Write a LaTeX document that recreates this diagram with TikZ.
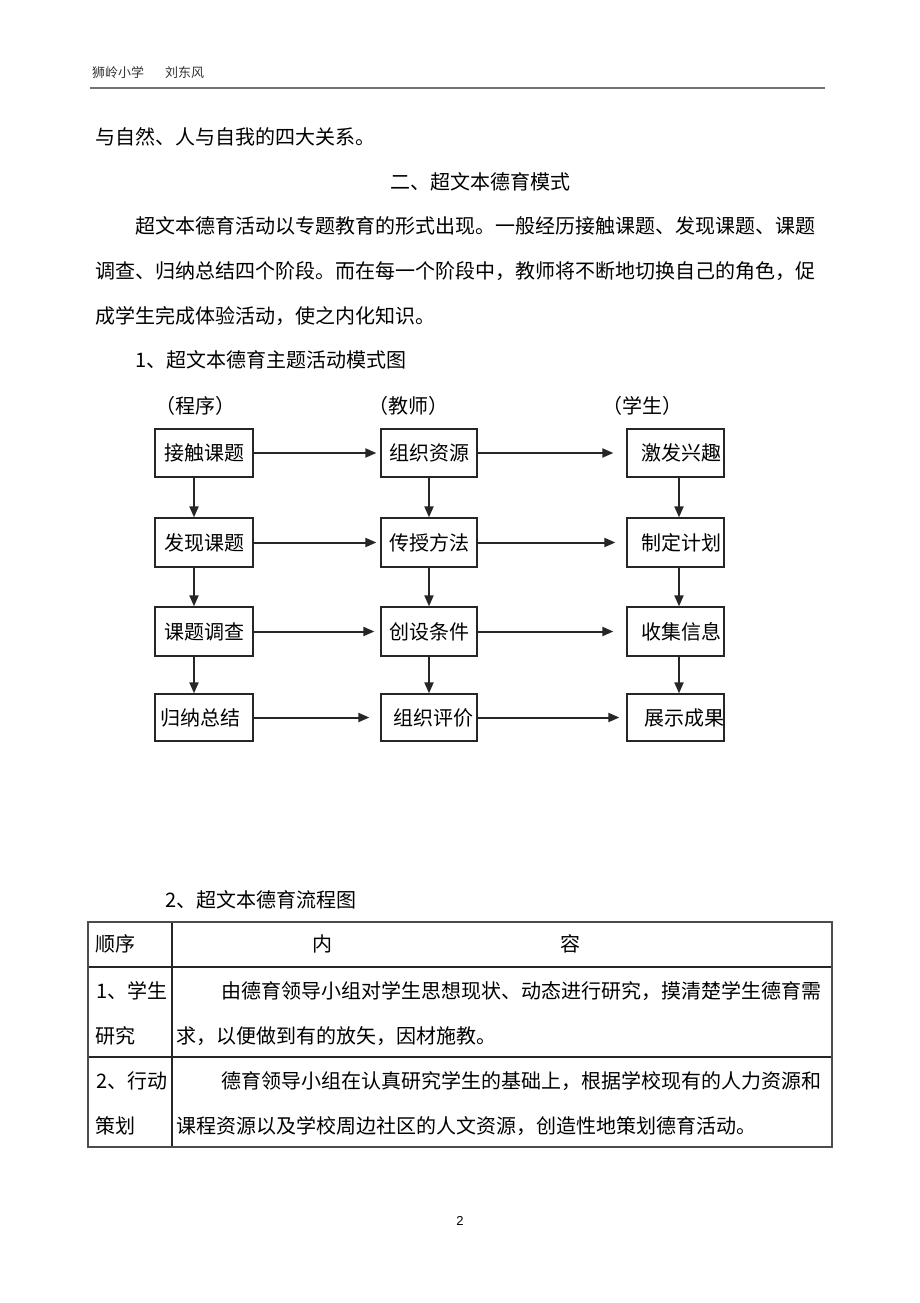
\documentclass[tikz,border=0pt]{standalone}
\usepackage{fontspec}
\setmainfont{Noto Sans CJK SC}
\newfontfamily\numfont{Liberation Sans}
\usetikzlibrary{arrows.meta}
\begin{document}
\begin{tikzpicture}[x=1pt,y=-1pt,
  txt/.style={anchor=west,inner sep=0pt,font=\fontsize{20}{24}\selectfont},
  ctxt/.style={inner sep=0pt,font=\fontsize{20}{24}\selectfont},
  small/.style={anchor=west,inner sep=0pt,font=\fontsize{13}{15}\selectfont,text=black!80},
  box/.style={draw=black!85,line width=1.3pt,minimum width=97pt,minimum height=48pt,inner sep=0pt,font=\fontsize{20}{24}\selectfont},
  arr/.style={draw=black!85,line width=2pt,-{Triangle[length=11pt,width=9pt]}},
  tbl/.style={draw=black!85,line width=1.3pt},
  tblout/.style={draw=black!70,line width=2pt}
]
\useasboundingbox[fill=white] (0,0) rectangle (920,1303);

% header
\node[small] (h1) at (92,73) {狮岭小学};
\node[small] (h2) at (165,73) {刘东风};
\coordinate (r1) at (90,88);
\coordinate (r2) at (825,88);
\draw[black!55,line width=2.5pt] (r1) -- (r2);

% body
\node[txt] (t1) at (95,137) {与自然、人与自我的四大关系。};
\node[txt] (t2) at (390,182) {二、超文本德育模式};
\node[txt] (t3) at (135,226) {超文本德育活动以专题教育的形式出现。一般经历接触课题、发现课题、课题};
\node[txt] (t4) at (95,271) {调查、归纳总结四个阶段。而在每一个阶段中，教师将不断地切换自己的角色，促};
\node[txt] (t5) at (95,316) {成学生完成体验活动，使之内化知识。};
\node[txt] (t6) at (135,360) {1、超文本德育主题活动模式图};

% diagram headers
\node[ctxt] (c1) at (195,406) {（程序）};
\node[ctxt] (c2) at (408,406) {（教师）};
\node[ctxt] (c3) at (642,406) {（学生）};

% boxes
\node[box,minimum width=98pt] (b11) at (204,453) {接触课题};
\node[box,minimum width=96pt] (b12) at (429,453) {组织资源};
\node[box] (b13) at (675.5,453) {\hspace*{11pt}激发兴趣};
\node[box,minimum width=98pt,minimum height=49pt] (b21) at (204,542.5) {发现课题};
\node[box,minimum width=96pt,minimum height=49pt] (b22) at (429,542.5) {传授方法};
\node[box,minimum height=49pt] (b23) at (675.5,542.5) {\hspace*{11pt}制定计划};
\node[box,minimum width=98pt,minimum height=49pt] (b31) at (204,631.5) {课题调查};
\node[box,minimum width=96pt,minimum height=49pt] (b32) at (429,631.5) {创设条件};
\node[box,minimum height=49pt] (b33) at (675.5,631.5) {\hspace*{11pt}收集信息};
\node[box,minimum width=98pt,minimum height=47pt] (b41) at (204,717.5) {归纳总结\hspace*{8pt}};
\node[box,minimum width=96pt,minimum height=47pt] (b42) at (429,717.5) {\hspace*{8pt}组织评价};
\node[box,minimum height=47pt] (b43) at (675.5,717.5) {\hspace*{17pt}展示成果};

% horizontal arrows
\draw[arr] (b11.east) -- ([xshift=-4pt]b12.west);
\draw[arr] (b12.east) -- ([xshift=-13pt]b13.west);
\draw[arr] (b21.east) -- ([xshift=-4pt]b22.west);
\draw[arr] (b22.east) -- ([xshift=-11pt]b23.west);
\draw[arr] (b31.east) -- ([xshift=-6pt]b32.west);
\draw[arr] (b32.east) -- ([xshift=-13pt]b33.west);
\draw[arr] (b41.east) -- ([xshift=-11pt]b42.west);
\draw[arr] (b42.east) -- ([xshift=-7pt]b43.west);

% vertical arrows
\foreach \a/\b in {b11/b21,b21/b31,b31/b41}
  \draw[arr] ([xshift=-10pt]\a.south) -- ([xshift=-10pt]\b.north);
\foreach \a/\b in {b12/b22,b22/b32,b32/b42}
  \draw[arr] (\a.south) -- (\b.north);
\foreach \a/\b in {b13/b23,b23/b33,b33/b43}
  \draw[arr] ([xshift=3.5pt]\a.south) -- ([xshift=3.5pt]\b.north);

% section 2 title
\node[txt] (t7) at (165,900) {2、超文本德育流程图};

% table
\draw[tbl] (172,922) -- (172,1147);
\draw[tbl] (88,967) -- (832,967);
\draw[tbl] (88,1057) -- (832,1057);
\draw[tblout] (88,922) rectangle (832,1147);

\node[txt] (k0) at (95,944) {顺序};
\node[ctxt] (k1) at (322,944) {内};
\node[ctxt] (k2) at (570,944) {容};
\node[txt] (k3) at (96,991) {1、学生};
\node[txt] (k4) at (95,1036) {研究};
\node[txt] (k5) at (221,991) {由德育领导小组对学生思想现状、动态进行研究，摸清楚学生德育需};
\node[txt] (k6) at (176,1036) {求，以便做到有的放矢，因材施教。};
\node[txt] (k7) at (96,1081) {2、行动};
\node[txt] (k8) at (95,1126) {策划};
\node[txt] (k9) at (221,1081) {德育领导小组在认真研究学生的基础上，根据学校现有的人力资源和};
\node[txt] (k10) at (176,1126) {课程资源以及学校周边社区的人文资源，创造性地策划德育活动。};

% page number
\node[inner sep=0pt,font=\numfont\fontsize{13}{15}\selectfont] (pn) at (460,1221) {2};
\end{tikzpicture}
\end{document}
